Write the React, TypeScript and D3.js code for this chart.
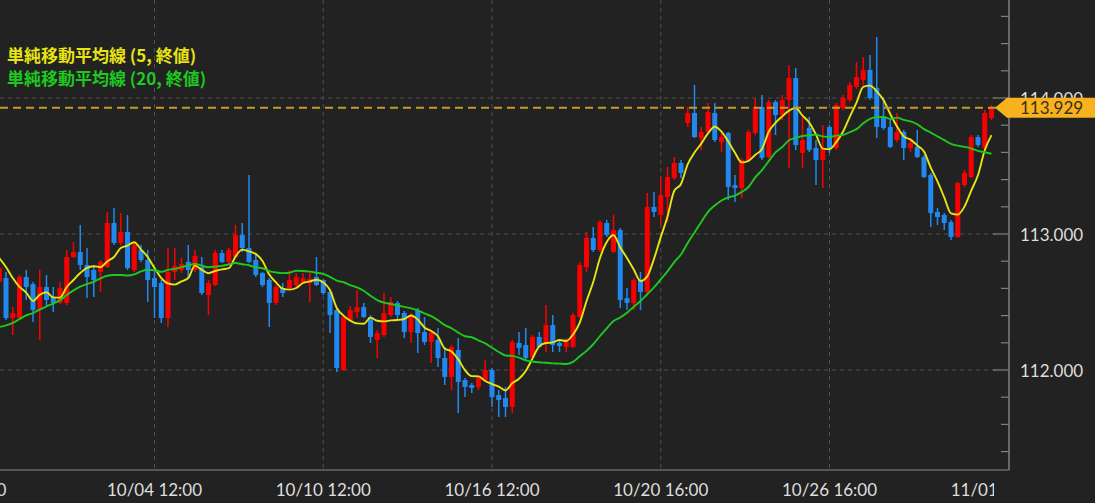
import React from 'react';
import * as d3 from 'd3';

const W = 1095;
const H = 503;

// OHLC (USD/JPY, 4h)
const opens = [
  112.647, 112.676, 112.382, 112.382, 112.684, 112.632, 112.441, 112.610, 112.537, 112.493,
  112.493, 112.831, 112.868, 112.772, 112.735, 112.721, 112.757, 113.081, 112.934, 113.015,
  112.735, 112.882, 112.809, 112.676, 112.640, 112.382, 112.721, 112.735, 112.794, 112.735,
  112.757, 112.551, 112.625, 112.860, 112.794, 112.831, 112.993, 112.897, 112.809, 112.713,
  112.662, 112.493, 112.603, 112.603, 112.625, 112.640, 112.640, 112.684, 112.662, 112.574,
  112.441, 112.000, 112.368, 112.426, 112.463, 112.390, 112.221, 112.257, 112.404, 112.493,
  112.419, 112.279, 112.441, 112.279, 112.206, 112.221, 112.088, 111.949, 112.147, 111.926,
  111.890, 111.875, 111.926, 112.000, 111.816, 111.794, 111.728, 112.199, 112.184, 112.096,
  112.243, 112.199, 112.331, 112.199, 112.169, 112.169, 112.390, 112.757, 112.971, 112.882,
  113.081, 112.868, 113.029, 112.529, 112.493, 112.662, 112.574, 113.199, 113.140, 113.272,
  113.412, 113.522, 113.816, 113.890, 113.706, 113.750, 113.890, 113.676, 113.743, 113.360,
  113.338, 113.544, 113.743, 113.934, 113.566, 113.971, 113.875, 113.985, 114.147, 113.596,
  113.779, 113.632, 113.544, 113.787, 113.632, 113.926, 113.985, 114.081, 114.132, 114.206,
  114.074, 113.853, 113.787, 113.691, 113.750, 113.632, 113.640, 113.566, 113.434, 113.162,
  113.140, 113.088, 112.978, 113.360, 113.419, 113.713, 113.632, 113.853,
];
const highs = [
  112.794, 112.721, 112.463, 112.699, 112.735, 112.647, 112.735, 112.699, 112.610, 112.647,
  112.882, 112.941, 113.066, 112.897, 112.772, 112.809, 113.162, 113.191, 113.154, 113.140,
  112.934, 112.919, 112.882, 112.735, 112.662, 112.897, 112.897, 112.824, 112.919, 112.882,
  112.831, 112.662, 112.882, 112.882, 112.897, 113.066, 113.081, 113.434, 112.860, 112.721,
  112.676, 112.625, 112.640, 112.735, 112.713, 112.713, 112.713, 112.831, 112.669, 112.588,
  112.456, 112.404, 112.471, 112.588, 112.493, 112.404, 112.294, 112.566, 112.537, 112.507,
  112.434, 112.419, 112.456, 112.390, 112.279, 112.309, 112.169, 112.184, 112.235, 111.941,
  111.904, 111.963, 112.074, 112.015, 111.853, 111.875, 112.221, 112.279, 112.309, 112.257,
  112.279, 112.478, 112.404, 112.221, 112.235, 112.419, 112.794, 113.015, 113.051, 113.103,
  113.103, 113.140, 113.044, 112.603, 112.676, 112.721, 113.301, 113.309, 113.419, 113.493,
  113.566, 113.544, 113.934, 114.096, 113.787, 113.963, 113.963, 113.743, 113.750, 113.434,
  113.559, 113.765, 114.000, 114.022, 113.985, 113.985, 114.022, 114.243, 114.221, 113.860,
  113.860, 113.691, 113.801, 113.801, 113.963, 114.022, 114.118, 114.265, 114.301, 114.316,
  114.449, 114.007, 113.838, 113.890, 113.765, 113.706, 113.765, 113.581, 113.449, 113.191,
  113.154, 113.103, 113.382, 113.471, 113.728, 113.728, 113.912, 113.949,
];
const lows = [
  112.603, 112.368, 112.257, 112.368, 112.515, 112.353, 112.221, 112.463, 112.426, 112.485,
  112.478, 112.824, 112.735, 112.529, 112.537, 112.574, 112.750, 112.919, 112.919, 112.735,
  112.721, 112.794, 112.500, 112.382, 112.346, 112.316, 112.662, 112.713, 112.676, 112.721,
  112.551, 112.404, 112.618, 112.787, 112.779, 112.824, 112.868, 112.787, 112.684, 112.610,
  112.316, 112.478, 112.537, 112.588, 112.610, 112.632, 112.500, 112.618, 112.551, 112.272,
  111.985, 111.993, 112.353, 112.382, 112.382, 112.199, 112.088, 112.243, 112.390, 112.368,
  112.235, 112.199, 112.125, 112.184, 112.051, 112.022, 111.890, 111.853, 111.684, 111.801,
  111.831, 111.853, 111.912, 111.728, 111.654, 111.654, 111.684, 112.110, 112.074, 112.088,
  112.162, 112.132, 112.132, 112.132, 112.132, 112.162, 112.382, 112.721, 112.868, 112.868,
  112.978, 112.860, 112.456, 112.441, 112.441, 112.441, 112.566, 113.125, 113.066, 113.088,
  113.397, 113.412, 113.787, 113.706, 113.618, 113.743, 113.676, 113.603, 113.250, 113.235,
  113.265, 113.537, 113.728, 113.544, 113.559, 113.728, 113.838, 113.485, 113.618, 113.485,
  113.603, 113.360, 113.338, 113.596, 113.618, 113.912, 113.971, 114.066, 114.096, 113.985,
  113.706, 113.765, 113.632, 113.676, 113.544, 113.603, 113.559, 113.412, 113.051, 113.066,
  113.029, 112.956, 112.971, 113.346, 113.412, 113.640, 113.618, 113.838,
];
const closes = [
  112.750, 112.382, 112.419, 112.684, 112.610, 112.441, 112.610, 112.515, 112.493, 112.603,
  112.831, 112.868, 112.772, 112.684, 112.662, 112.794, 113.081, 112.934, 113.015, 112.750,
  112.919, 112.809, 112.662, 112.610, 112.382, 112.721, 112.765, 112.779, 112.735, 112.838,
  112.566, 112.640, 112.860, 112.794, 112.882, 112.993, 112.897, 112.794, 112.699, 112.625,
  112.493, 112.610, 112.566, 112.662, 112.684, 112.676, 112.669, 112.625, 112.566, 112.404,
  112.015, 112.390, 112.441, 112.463, 112.390, 112.243, 112.272, 112.419, 112.500, 112.404,
  112.279, 112.404, 112.272, 112.206, 112.272, 112.088, 111.949, 112.169, 111.912, 111.875,
  111.868, 111.941, 112.000, 111.801, 111.779, 111.728, 112.206, 112.162, 112.088, 112.243,
  112.169, 112.331, 112.184, 112.176, 112.206, 112.404, 112.772, 112.971, 112.882, 113.088,
  112.993, 113.029, 112.515, 112.493, 112.662, 112.574, 113.199, 113.162, 113.287, 113.419,
  113.522, 113.449, 113.890, 113.713, 113.750, 113.897, 113.691, 113.713, 113.346, 113.338,
  113.544, 113.750, 113.934, 113.559, 113.971, 113.875, 113.985, 114.147, 113.654, 113.691,
  113.618, 113.544, 113.632, 113.632, 113.949, 114.000, 114.096, 114.154, 114.206, 114.000,
  113.787, 113.779, 113.640, 113.750, 113.632, 113.669, 113.566, 113.419, 113.154, 113.125,
  113.081, 112.978, 113.375, 113.449, 113.713, 113.654, 113.890, 113.929,
];
// closes of the 19 bars before the visible window (needed for the moving averages)
const priorCloses = [
  112.147, 112.059, 112.110, 112.074, 112.088, 112.110, 112.037, 112.074, 112.132, 112.051,
  112.184, 112.235, 112.294, 112.331, 112.279, 112.713, 112.824, 113.007, 112.824,
];

const xTickIndex = [-6, 23, 48, 73, 98, 123, 148];
const xTickLabels = ['09/28 20:00', '10/04 12:00', '10/10 12:00', '10/16 12:00', '10/20 16:00', '10/26 16:00', '11/01 00:00'];
const yMajorTicks = [112, 113, 114];
const lastPrice = 113.929;
const legendLabels = ['単純移動平均線 (5, 終値)', '単純移動平均線 (20, 終値)'];
const maPeriods = [5, 20];

const BG = '#222222';
const UP = '#f80000';
const DOWN = '#2088ee';
const MA_COLORS = ['#e8e414', '#1ec81e'];
const GRID = '#505050';
const TEXT = '#dedede';
const ORANGE = '#f7b21e';

const PLOT_R = 996;
const PLOT_B = 470;
const AXIS_X = 1009;
const FONT = 'Lato, "Noto Sans", sans-serif';

function sma(period: number): number[] {
  const all = priorCloses.concat(closes);
  const off = priorCloses.length;
  return closes.map((_, i) => {
    const end = i + off;
    const slice = all.slice(end - period + 1, end + 1);
    return d3.mean(slice) as number;
  });
}

export default function App() {
  const n = closes.length;
  const x = d3.scaleLinear().domain([0, n - 1]).range([-0.75, 991.5]);
  const y = d3.scaleLinear().domain([112, 114]).range([370, 98]);
  const bodyW = 5;

  const minorTicks = d3.range(111.4, 114.61, 0.2).map((v) => +v.toFixed(1));

  const maLines = maPeriods.map((p) => {
    const vals = sma(p);
    const gen = d3
      .line<number>()
      .x((_, i) => x(i))
      .y((v) => y(v))
      .curve(d3.curveMonotoneX);
    return gen(vals) || '';
  });

  const ly = y(lastPrice);

  return (
    <svg
      width={W}
      height={H}
      style={{ position: 'absolute', left: 0, top: 0, display: 'block', background: BG }}
    >
      <defs>
        <clipPath id="plotClip">
          <rect x={0} y={0} width={PLOT_R} height={PLOT_B} />
        </clipPath>
        <clipPath id="xlabClip">
          <rect x={0} y={PLOT_B} width={994} height={H - PLOT_B} />
        </clipPath>
      </defs>
      <rect x={0} y={0} width={W} height={H} fill={BG} />

      {/* grid */}
      <g clipPath="url(#plotClip)">
        {yMajorTicks.map((t) => (
          <line key={'gy' + t} x1={0} x2={PLOT_R} y1={y(t)} y2={y(t)} stroke={GRID} strokeDasharray="4,4" strokeWidth={1} />
        ))}
        {xTickIndex.map((t) => (
          <line key={'gx' + t} x1={x(t)} x2={x(t)} y1={0} y2={PLOT_B} stroke={GRID} strokeDasharray="4,4" strokeWidth={1} />
        ))}
      </g>

      {/* candles */}
      <g clipPath="url(#plotClip)">
        {closes.map((c, i) => {
          const o = opens[i];
          const up = c >= o;
          const col = up ? UP : DOWN;
          const cx = x(i);
          const top = y(Math.max(o, c));
          const bot = y(Math.min(o, c));
          return (
            <g key={i}>
              <line x1={cx} x2={cx} y1={y(highs[i])} y2={y(lows[i])} stroke={col} strokeWidth={1.5} />
              <rect x={cx - bodyW / 2} y={top} width={bodyW} height={Math.max(1, bot - top)} fill={col} />
            </g>
          );
        })}
        {maLines.map((d, k) => (
          <path key={'ma' + k} d={d} fill="none" stroke={MA_COLORS[k]} strokeWidth={1.9} />
        ))}
        <line x1={0} x2={PLOT_R + 4} y1={ly} y2={ly} stroke="#c9982a" strokeWidth={2} strokeDasharray="8,5" />
      </g>

      {/* axes */}
      <line x1={0} x2={AXIS_X} y1={PLOT_B} y2={PLOT_B} stroke="#6a6a6a" strokeWidth={1.5} />
      <line x1={AXIS_X} x2={AXIS_X} y1={0} y2={PLOT_B} stroke="#808080" strokeWidth={1.5} />
      {minorTicks.map((t) => {
        const major = Math.abs(t - Math.round(t)) < 1e-6;
        return (
          <line key={'yt' + t} x1={major ? AXIS_X - 16 : AXIS_X - 8} x2={AXIS_X} y1={y(t)} y2={y(t)} stroke="#808080" strokeWidth={1.2} />
        );
      })}
      {yMajorTicks.map((t) => (
        <text key={'yl' + t} x={1020} y={y(t)} fill={TEXT} fontFamily={FONT} fontSize={17} dominantBaseline="central">
          {d3.format('.3f')(t)}
        </text>
      ))}

      <g clipPath="url(#xlabClip)">
        {xTickIndex.map((t, k) => (
          <text key={'xl' + t} x={x(t)} y={489} fill={TEXT} fontFamily={FONT} fontSize={17} textAnchor="middle" dominantBaseline="central">
            {xTickLabels[k]}
          </text>
        ))}
      </g>

      {/* last price marker */}
      <polygon
        points={`${AXIS_X - 14},${ly} ${AXIS_X - 2},${ly - 10} ${W},${ly - 10} ${W},${ly + 10} ${AXIS_X - 2},${ly + 10}`}
        fill={ORANGE}
      />
      <text x={1020} y={ly} fill="#3a3020" fontFamily={FONT} fontSize={17} dominantBaseline="central">
        {d3.format('.3f')(lastPrice)}
      </text>

      {/* legend */}
      {legendLabels.map((l, k) => (
        <text
          key={'lg' + k}
          x={7}
          y={54 + k * 23}
          fill={MA_COLORS[k]}
          fontFamily='"Noto Sans CJK JP", sans-serif'
          fontSize={17}
          fontWeight={700}
          dominantBaseline="central"
        >
          {l}
        </text>
      ))}
    </svg>
  );
}
